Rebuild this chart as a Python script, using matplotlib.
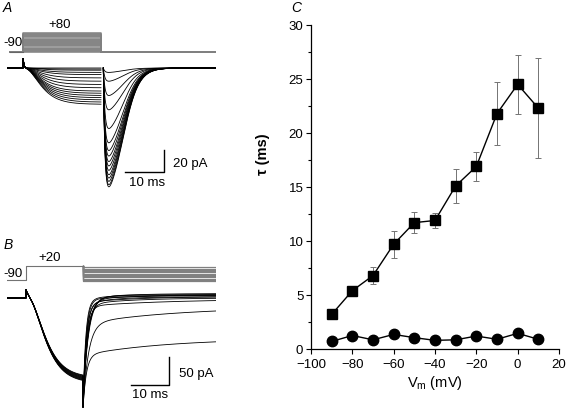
import numpy as np
import matplotlib.pyplot as plt
from matplotlib.ticker import MultipleLocator

plt.rcParams['font.family'] = ['Liberation Sans', 'DejaVu Sans']
plt.rcParams['font.size'] = 9.5

W, H = 567, 408

# panel C: time constants vs tail potential
vm = [-90, -80, -70, -60, -50, -40, -30, -20, -10, 0, 10]
tau_slow = [3.2, 5.4, 6.8, 9.7, 11.7, 11.9, 15.1, 16.9, 21.8, 24.5, 22.3]
tau_slow_err = [0.2, 0.45, 0.75, 1.25, 1.0, 0.65, 1.6, 1.3, 2.9, 2.75, 4.6]
tau_fast = [0.7, 1.25, 0.85, 1.35, 1.05, 0.8, 0.85, 1.2, 0.9, 1.45, 0.9]

# panel A: steps -90..+80 mV, 20 ms, then back to -90
a_step_mv = list(range(-90, 81, 10))
a_pulse_pa = [0, 1, 2, 4, 6, 9, 12, 15, 18, 21, 23, 25, 27, 29, 31, 33]
a_tail_pa = [4, 12, 25, 38, 55, 68, 75, 80, 85, 89, 93, 97, 100, 103, 106, 108]

# panel B: +20 mV for 15 ms, then tails at vm
b_step_mv = list(range(-100, 11, 10))
b_pulse_pa = [146, 150, 143, 148, 152, 145, 149, 144, 151, 147, 142]
b_tail_peak = -195
b_tail_ss = [4, 6, 2, 8, 0, 5, 3, 7, -2, -16, -72]
b_tail_slow = [-12, -10, -14, -9, -12, -8, -11, -10, -13, -30, -30]


def add_ax(l, t, r, b):
    return fig.add_axes([l / W, 1 - b / H, (r - l) / W, (b - t) / H])


fig = plt.figure(figsize=(W / 100, H / 100), dpi=100)

# ---- A
axAp = add_ax(7, 28, 216, 56)
axAp.set_xlim(-4.1, 49.5)
axAp.set_ylim(-125.8, 124.7)
axAp.axis('off')
for v in a_step_mv:
    axAp.plot([-3.3, 0, 0, 20, 20, 49.3], [-90, -90, v, v, -90, -90],
              color='0.5', lw=1.1)
axAp.plot([-3.3, 0], [-90, -90], color='0.4', lw=0.8)
axAp.text(-5.1, -9.5, '-90', ha='left', va='center')
axAp.text(9.5, 151, '+80', ha='center', va='center')

axA = add_ax(7, 58, 216, 192)
axA.set_xlim(-4.1, 49.5)
axA.set_ylim(-112.7, 9.1)
axA.axis('off')
t_pre = np.linspace(-4.1, 0, 20)
t_on = np.linspace(0, 20, 400)
dt = np.linspace(0, 28.9, 600)
shape = (1 - np.exp(-dt / 0.4)) / (1 + np.exp((dt - 5) / 2))
shape = shape / shape.max()
for a, b in zip(a_pulse_pa, a_tail_pa):
    i_on = -a * (1 - np.exp(-t_on / 3)) ** 3 + 12 * np.exp(-t_on / 0.2)
    t = np.concatenate([t_pre, t_on, [20.3], 20.6 + dt])
    y = np.concatenate([np.zeros_like(t_pre), i_on, [np.nan], -b * shape])
    axA.plot(t, y, color='k', lw=0.6)
axA.plot([26.15, 36.15, 36.15], [-94.5, -94.5, -74.5], color='k', lw=1)
axA.text(38.5, -87, '20 pA', ha='left', va='center')
axA.text(31.7, -104.5, '10 ms', ha='center', va='center')

# ---- B
axBp = add_ax(7, 255, 216, 285)
axBp.set_xlim(-5, 50)
axBp.set_ylim(-90 - 5 / 0.1273, -90 + 25 / 0.1273)
axBp.axis('off')
for v in b_step_mv:
    axBp.plot([15, 15, 50], [20, v, v], color='0.5', lw=0.9)
axBp.plot([-5, 0, 0, 15], [-90, -90, 20, 20], color='0.45', lw=0.8)
axBp.text(-6, -88, '-90', ha='left', va='bottom')
axBp.text(6.3, 83, '+20', ha='center', va='center')

axB = add_ax(7, 285, 216, 408)
axB.set_xlim(-5, 50)
axB.set_ylim(-(408 - 298) / 0.56, (298 - 285) / 0.56)
axB.axis('off')
t_pre = np.linspace(-5, 0, 20)
t_on = np.linspace(0, 15, 300)
dt = np.linspace(0, 35, 700)
for k in range(len(vm)):
    i_on = -b_pulse_pa[k] * (1 - np.exp(-t_on / 3.3)) ** 3 + 15 * np.exp(-t_on / 0.7)
    fast = b_tail_peak - b_tail_ss[k] - b_tail_slow[k]
    i_tail = (b_tail_ss[k] + b_tail_slow[k] * np.exp(-dt / tau_slow[k])
              + fast * np.exp(-dt / tau_fast[k]))
    t = np.concatenate([t_pre, t_on, 15 + dt])
    y = np.concatenate([np.zeros_like(t_pre), i_on, i_tail])
    axB.plot(t, y, color='k', lw=0.6)
axB.plot([27.6, 37.6, 37.6], [-155, -155, -105], color='k', lw=1)
axB.text(40.3, -136, '50 pA', ha='left', va='center')
axB.text(32.6, -173, '10 ms', ha='center', va='center')

# ---- C
axC = add_ax(311, 25, 559, 349)
axC.errorbar(vm, tau_slow, yerr=tau_slow_err, fmt='none', ecolor='0.45',
             elinewidth=0.7, capsize=2, capthick=0.7, zorder=1)
axC.plot(vm, tau_slow, 'ks-', ms=7, lw=1, zorder=3)
axC.plot(vm, tau_fast, 'ko-', ms=7.5, lw=1, zorder=3)
axC.set_xlim(-100, 20)
axC.set_ylim(0, 30)
axC.xaxis.set_major_locator(MultipleLocator(20))
axC.yaxis.set_major_locator(MultipleLocator(5))
axC.yaxis.set_minor_locator(MultipleLocator(2.5))
axC.tick_params(direction='out', length=3.5, width=0.8, labelsize=9.5)
axC.tick_params(axis='x', pad=3.5)
axC.tick_params(axis='y', pad=2)
axC.tick_params(which='minor', direction='out', length=2, width=0.8)
for s in ['top', 'right']:
    axC.spines[s].set_visible(False)
for s in ['left', 'bottom']:
    axC.spines[s].set_linewidth(0.9)
axC.set_xlabel('V$_\\mathregular{m}$ (mV)', fontsize=10.5, labelpad=2)
axC.set_ylabel('τ (ms)', fontsize=10.5, fontweight='bold')
axC.yaxis.set_label_coords(-0.165, 0.6)

fig.text(7 / W, 1 - 8 / H, 'A', style='italic', fontsize=10, ha='center', va='center')
fig.text(8 / W, 1 - 245 / H, 'B', style='italic', fontsize=10, ha='center', va='center')
fig.text(296 / W, 1 - 8 / H, 'C', style='italic', fontsize=10, ha='center', va='center')

fig.savefig('out.png', dpi=100)
